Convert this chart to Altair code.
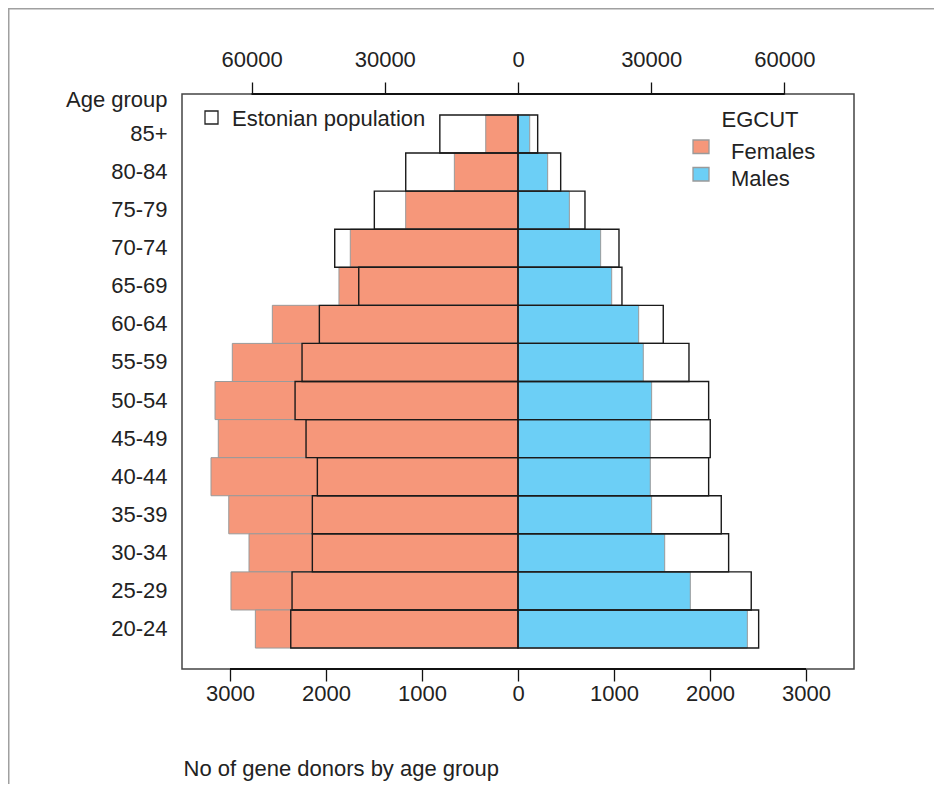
import altair as alt
import pandas as pd

# ---- data ----
ages = ["85+", "80-84", "75-79", "70-74", "65-69", "60-64", "55-59",
        "50-54", "45-49", "40-44", "35-39", "30-34", "25-29", "20-24"]
egcut_females = [336, 663, 1170, 1747, 1865, 2559, 2976, 3156, 3122, 3198, 3013, 2802, 2990, 2736]
egcut_males = [122, 309, 535, 861, 976, 1257, 1305, 1392, 1378, 1378, 1392, 1528, 1795, 2389]
pop_females = [17600, 25280, 32350, 41270, 35860, 44730, 48630, 50200, 47730, 45180, 46310, 46310, 50880, 51170]
pop_males = [4430, 9610, 15080, 22740, 23410, 32710, 38500, 42930, 43290, 42930, 45770, 47430, 52520, 54190]
sexes = ["Females", "Males"]
colors = ["#F6977A", "#6CCFF6"]
donor_ticks = [-3000, -2000, -1000, 0, 1000, 2000, 3000]
pop_ticks = [-60000, -30000, 0, 30000, 60000]

donors = pd.DataFrame({
    "age": ages * 2,
    "sex": ["Females"] * len(ages) + ["Males"] * len(ages),
    "value": [-v for v in egcut_females] + egcut_males,
})
pop = pd.DataFrame({
    "age": ages * 2,
    "sex": ["Females"] * len(ages) + ["Males"] * len(ages),
    "value": [-v for v in pop_females] + pop_males,
})
donor_line = pd.DataFrame({"value": [min(donor_ticks)], "value2": [max(donor_ticks)]})
pop_line = pd.DataFrame({"value": [min(pop_ticks)], "value2": [max(pop_ticks)]})
one = pd.DataFrame({"k": [0]})

W, H = 672, 575
FONT = "Liberation Sans"
FS = 22
TXT = "#222222"
donor_dom = [-3500, 3500]
pop_dom = [-75660, 75660]

y_enc = alt.Y(
    "age:N", sort=ages,
    scale=alt.Scale(paddingInner=0, paddingOuter=0.55),
    axis=alt.Axis(title="Age group", titleAngle=0, titleAlign="right",
                  titleBaseline="alphabetic", titleX=-15, titleY=12,
                  titleFont=FONT, titleFontSize=FS, titleFontWeight="normal",
                  titleColor=TXT, labelFont=FONT, labelFontSize=FS,
                  labelColor=TXT, labelPadding=15, ticks=False, domain=False),
)

donor_x = alt.X(
    "value:Q",
    scale=alt.Scale(domain=donor_dom, nice=False, zero=False),
    axis=alt.Axis(orient="bottom", values=donor_ticks,
                  labelExpr="format(abs(datum.value), 'd')",
                  tickSize=12, tickWidth=1.3, tickColor="#111111",
                  domain=False, grid=False, labelFont=FONT, labelFontSize=FS,
                  labelColor=TXT, labelPadding=2,
                  title="No of gene donors by age group", titleX=1, titleY=106,
                  titleAlign="left", titleAnchor="start", titleBaseline="alphabetic",
                  titleFont=FONT, titleFontSize=FS, titleFontWeight="normal",
                  titleColor=TXT),
)

pop_x = alt.X(
    "value:Q",
    scale=alt.Scale(domain=pop_dom, nice=False, zero=False),
    axis=alt.Axis(orient="top", values=pop_ticks,
                  labelExpr="format(abs(datum.value), 'd')",
                  tickSize=12, tickWidth=1.3, tickColor="#111111",
                  domain=False, grid=False, labelFont=FONT, labelFontSize=FS,
                  labelColor=TXT, labelPadding=11, title=None),
)

donor_bars = alt.Chart(donors).mark_bar(stroke="#9a9a9a", strokeWidth=1).encode(
    x=donor_x, x2=alt.X2(datum=0), y=y_enc,
    color=alt.Color("sex:N", scale=alt.Scale(domain=sexes, range=colors), legend=None),
)
donor_rule = alt.Chart(donor_line).mark_rule(color="#111111", strokeWidth=2).encode(
    x=donor_x, x2="value2:Q", y=alt.value(H),
)

pop_bars = alt.Chart(pop).mark_bar(fillOpacity=0, stroke="#1a1a1a", strokeWidth=1.4).encode(
    x=pop_x, x2=alt.X2(datum=0), y=y_enc,
)
pop_rule = alt.Chart(pop_line).mark_rule(color="#111111", strokeWidth=2).encode(
    x=pop_x, x2="value2:Q", y=alt.value(0),
)

# ---- legends (drawn as annotation marks) ----
pop_key = alt.Chart(one).mark_rect(fill="white", stroke="#222222", strokeWidth=1.3).encode(
    x=alt.value(23), x2=alt.value(36), y=alt.value(17), y2=alt.value(30))
pop_key_text = alt.Chart(one).mark_text(
    text="Estonian population", font=FONT, fontSize=FS, color=TXT,
    align="left", baseline="alphabetic").encode(x=alt.value(50), y=alt.value(32))
egcut_title = alt.Chart(one).mark_text(
    text="EGCUT", font=FONT, fontSize=FS, color=TXT,
    align="center", baseline="alphabetic").encode(x=alt.value(578), y=alt.value(33))

key_layers = []
box_tops = [46, 73.5]
text_bases = [65, 92]
for i, s in enumerate(sexes):
    key_layers.append(
        alt.Chart(one).mark_rect(fill=colors[i], stroke="#9a9a9a", strokeWidth=1.3).encode(
            x=alt.value(511), x2=alt.value(527),
            y=alt.value(box_tops[i]), y2=alt.value(box_tops[i] + 13.5)))
    key_layers.append(
        alt.Chart(one).mark_text(text=s, font=FONT, fontSize=FS, color=TXT,
                                 align="left", baseline="alphabetic").encode(
            x=alt.value(549), y=alt.value(text_bases[i])))

outer = alt.Chart(one).mark_rect(fillOpacity=0, stroke="#a0a0a0", strokeWidth=1.5).encode(
    x=alt.value(-173.25), y=alt.value(-85.25), x2=alt.value(3000), y2=alt.value(3000))

donor_group = alt.layer(outer, donor_bars, donor_rule, pop_key, pop_key_text,
                        egcut_title, *key_layers)
pop_group = alt.layer(pop_bars, pop_rule)

chart = alt.layer(donor_group, pop_group).resolve_scale(x="independent").properties(
    width=W, height=H,
    background="white",
    autosize=alt.AutoSizeParams(type="none"),
    padding={"left": 174, "top": 86, "right": 80, "bottom": 115},
).configure_view(stroke="#444444", strokeWidth=1.5)

chart.save("out.html", embed_options={"renderer": "svg", "actions": False})
